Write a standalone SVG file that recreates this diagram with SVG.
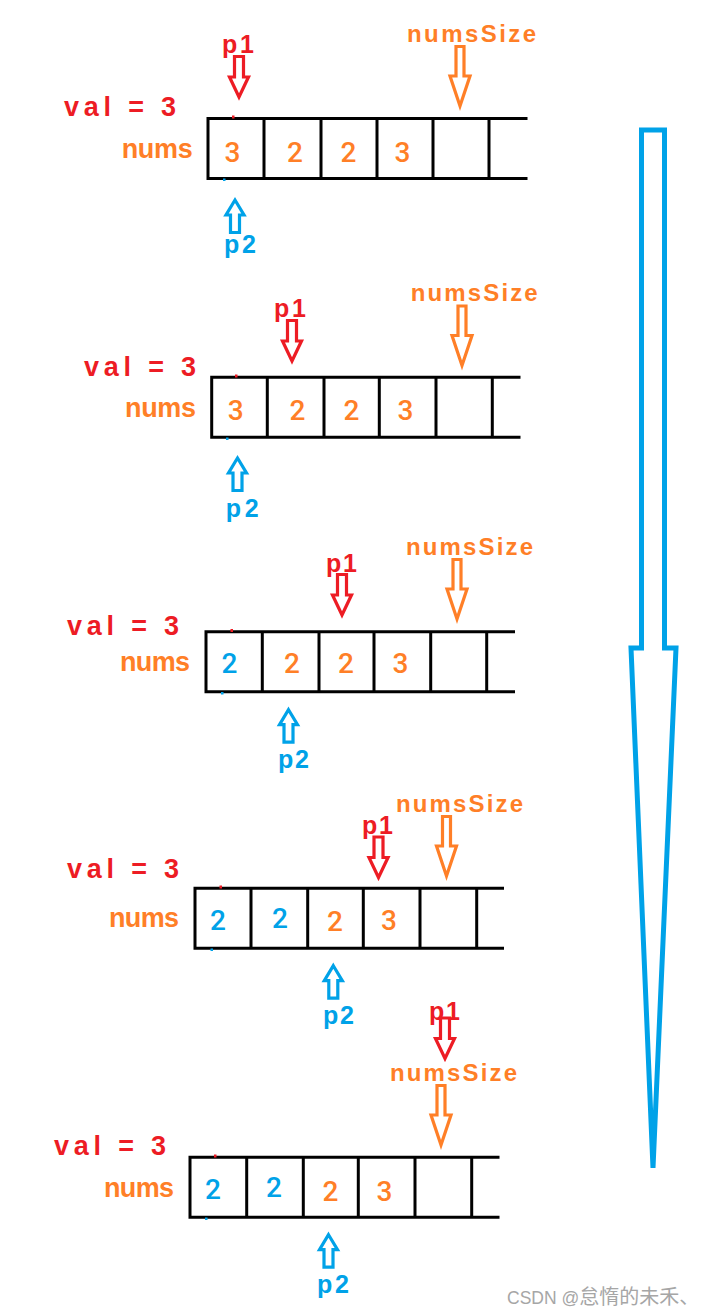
<svg xmlns="http://www.w3.org/2000/svg" xmlns:xlink="http://www.w3.org/1999/xlink" width="705" height="1315" viewBox="0 0 705 1315">
<style>
.lbl{font-family:"Liberation Sans",Arial,sans-serif;font-weight:bold}
.val{font-size:27px}
.nm{font-size:27px}
.ns{font-size:24px}
.p{font-size:25px}
.r{fill:#ed1c24}
.o{fill:#ff7f27}
.b{fill:#00a2e8}
.num{font-family:Roboto,"Liberation Sans",Arial,sans-serif;font-size:28px;font-weight:500;text-anchor:middle}
.box{fill:none;stroke:#000;stroke-width:3;stroke-linecap:square}
.ar{fill:#fff;stroke-width:3.2;stroke-linejoin:miter}
.sr{stroke:#ed1c24}
.so{stroke:#ff7f27}
.sb{stroke:#00a2e8}
.wm{font-family:"Liberation Sans","Noto Sans CJK SC",sans-serif;fill:#a6a6a6}
</style>
<defs>
<path id="p1a" d="M-4.5,1.5 H4.5 V22 H9.5 L0,42 L-9.5,22 H-4.5 Z"/>
<path id="nsa" d="M-4,1.5 H4 V31 H10 L0,61 L-10,31 H-4 Z"/>
<path id="p2a" d="M0,3 L9,18 H4.5 V35.5 H-4.5 V18 H-9 Z"/>
</defs>
<rect width="705" height="1315" fill="#fff"/>

<g id="panel1">
<path class="box" d="M208,118.5 H526 M208,178.5 H526 M208,118.5 V178.5 M264,118.5 V178.5 M321,118.5 V178.5 M377,118.5 V178.5 M433,118.5 V178.5 M489,118.5 V178.5"/>
<rect x="232" y="115.5" width="2.5" height="3" class="r"/>
<rect x="223" y="178.5" width="2.5" height="2.5" class="b"/>
<text class="lbl val r" x="64" y="115.7" textLength="112" lengthAdjust="spacing">val = 3</text>
<text class="lbl nm o" x="121.7" y="157.7" textLength="71" lengthAdjust="spacing">nums</text>
<text class="lbl ns o" x="407" y="41.7" textLength="129" lengthAdjust="spacing">numsSize</text>
<text class="lbl p r" x="222" y="53" textLength="32" lengthAdjust="spacing">p1</text>
<text class="lbl p b" x="224" y="252.5" textLength="32" lengthAdjust="spacing">p2</text>
<text class="num o" x="232.5" y="162">3</text>
<text class="num o" x="295" y="162">2</text>
<text class="num o" x="348.5" y="162">2</text>
<text class="num o" x="402.5" y="162">3</text>
</g>

<g id="panel2">
<path class="box" d="M211.7,377.3 H519 M211.7,437.3 H519 M211.7,377.3 V437.3 M267.3,377.3 V437.3 M324,377.3 V437.3 M379.3,377.3 V437.3 M436,377.3 V437.3 M492.3,377.3 V437.3"/>
<rect x="235" y="374.5" width="2.5" height="3" class="r"/>
<rect x="226" y="437.5" width="2.5" height="2.5" class="b"/>
<text class="lbl val r" x="84" y="376" textLength="112" lengthAdjust="spacing">val = 3</text>
<text class="lbl nm o" x="125" y="416.7" textLength="71" lengthAdjust="spacing">nums</text>
<text class="lbl ns o" x="410.7" y="300.7" textLength="127" lengthAdjust="spacing">numsSize</text>
<text class="lbl p r" x="274" y="316.7" textLength="32" lengthAdjust="spacing">p1</text>
<text class="lbl p b" x="225.7" y="516.7" textLength="33" lengthAdjust="spacing">p2</text>
<text class="num o" x="235.8" y="420">3</text>
<text class="num o" x="297.5" y="420">2</text>
<text class="num o" x="351.5" y="420">2</text>
<text class="num o" x="405.5" y="420">3</text>
</g>

<g id="panel3">
<path class="box" d="M206,631.7 H513.5 M206,691.7 H513.5 M206,631.7 V691.7 M262.3,631.7 V691.7 M319,631.7 V691.7 M374,631.7 V691.7 M430.7,631.7 V691.7 M486.7,631.7 V691.7"/>
<rect x="230.5" y="629" width="2.5" height="3" class="r"/>
<rect x="221" y="692" width="2.5" height="2.5" class="b"/>
<text class="lbl val r" x="67" y="635" textLength="112" lengthAdjust="spacing">val = 3</text>
<text class="lbl nm o" x="120" y="671" textLength="70" lengthAdjust="spacing">nums</text>
<text class="lbl ns o" x="406" y="555" textLength="127" lengthAdjust="spacing">numsSize</text>
<text class="lbl p r" x="326" y="571.7" textLength="31" lengthAdjust="spacing">p1</text>
<text class="lbl p b" x="278" y="768.3" textLength="31" lengthAdjust="spacing">p2</text>
<text class="num b" x="229.5" y="673.3">2</text>
<text class="num o" x="292" y="673.3">2</text>
<text class="num o" x="346" y="673.3">2</text>
<text class="num o" x="400.5" y="673.3">3</text>
</g>

<g id="panel4">
<path class="box" d="M195,888.3 H502.5 M195,948.3 H502.5 M195,888.3 V948.3 M251,888.3 V948.3 M307.7,888.3 V948.3 M363.3,888.3 V948.3 M420,888.3 V948.3 M476.7,888.3 V948.3"/>
<rect x="219.5" y="885.5" width="2.5" height="3" class="r"/>
<rect x="210.5" y="948.5" width="2.5" height="2.5" class="b"/>
<text class="lbl val r" x="67" y="878.3" textLength="112" lengthAdjust="spacing">val = 3</text>
<text class="lbl nm o" x="109" y="927.3" textLength="70" lengthAdjust="spacing">nums</text>
<text class="lbl ns o" x="396" y="811.7" textLength="127" lengthAdjust="spacing">numsSize</text>
<text class="lbl p r" x="362" y="834" textLength="31" lengthAdjust="spacing">p1</text>
<text class="lbl p b" x="323" y="1024" textLength="31" lengthAdjust="spacing">p2</text>
<text class="num b" x="218" y="930">2</text>
<text class="num b" x="280" y="927.7">2</text>
<text class="num o" x="335" y="930.7">2</text>
<text class="num o" x="389" y="930">3</text>
</g>

<g id="panel5">
<path class="box" d="M190,1157.3 H498 M190,1217.3 H498 M190,1157.3 V1217.3 M246.7,1157.3 V1217.3 M303.3,1157.3 V1217.3 M358.3,1157.3 V1217.3 M415,1157.3 V1217.3 M471.7,1157.3 V1217.3"/>
<rect x="214" y="1154.5" width="2.5" height="3" class="r"/>
<rect x="205" y="1217.5" width="2.5" height="2.5" class="b"/>
<text class="lbl val r" x="54" y="1155" textLength="112" lengthAdjust="spacing">val = 3</text>
<text class="lbl nm o" x="104" y="1196.5" textLength="70" lengthAdjust="spacing">nums</text>
<text class="lbl ns o" x="390" y="1081" textLength="127" lengthAdjust="spacing">numsSize</text>
<text class="lbl p r" x="429" y="1020" textLength="31" lengthAdjust="spacing">p1</text>
<text class="lbl p b" x="317" y="1292.7" textLength="32" lengthAdjust="spacing">p2</text>
<text class="num b" x="213" y="1199.3">2</text>
<text class="num b" x="274" y="1196.7">2</text>
<text class="num o" x="330.5" y="1200.7">2</text>
<text class="num o" x="384.5" y="1200.7">3</text>
</g>

<g id="connectors">
<use xlink:href="#p1a" href="#p1a" class="ar sr" transform="translate(239,55)"/>
<use xlink:href="#p1a" href="#p1a" class="ar sr" transform="translate(292,319)"/>
<use xlink:href="#p1a" href="#p1a" class="ar sr" transform="translate(342,573)"/>
<use xlink:href="#p1a" href="#p1a" class="ar sr" transform="translate(378.5,835.5)"/>
<use xlink:href="#p1a" href="#p1a" class="ar sr" transform="translate(445,1016.5)"/>
<use xlink:href="#nsa" href="#nsa" class="ar so" transform="translate(460,45)"/>
<use xlink:href="#nsa" href="#nsa" class="ar so" transform="translate(462,304.5)"/>
<use xlink:href="#nsa" href="#nsa" class="ar so" transform="translate(457,558)"/>
<use xlink:href="#nsa" href="#nsa" class="ar so" transform="translate(446.5,815)"/>
<use xlink:href="#nsa" href="#nsa" class="ar so" transform="translate(441,1084)"/>
<use xlink:href="#p2a" href="#p2a" class="ar sb" transform="translate(235,197)"/>
<use xlink:href="#p2a" href="#p2a" class="ar sb" transform="translate(237.5,455)"/>
<use xlink:href="#p2a" href="#p2a" class="ar sb" transform="translate(288.5,706.7)"/>
<use xlink:href="#p2a" href="#p2a" class="ar sb" transform="translate(333.3,962.7)"/>
<use xlink:href="#p2a" href="#p2a" class="ar sb" transform="translate(328.5,1231.7)"/>
<path id="progress-arrow" d="M641.5,648 V130 H664.5 V648 H676 L653,1168 L631,648 Z" fill="none" stroke="#00a2e8" stroke-width="5" stroke-linejoin="miter" stroke-miterlimit="20"/>
</g>

<text class="wm" x="507" y="1304" font-size="17.5">CSDN @<tspan font-size="20">怠惰的未禾、</tspan></text>
</svg>
